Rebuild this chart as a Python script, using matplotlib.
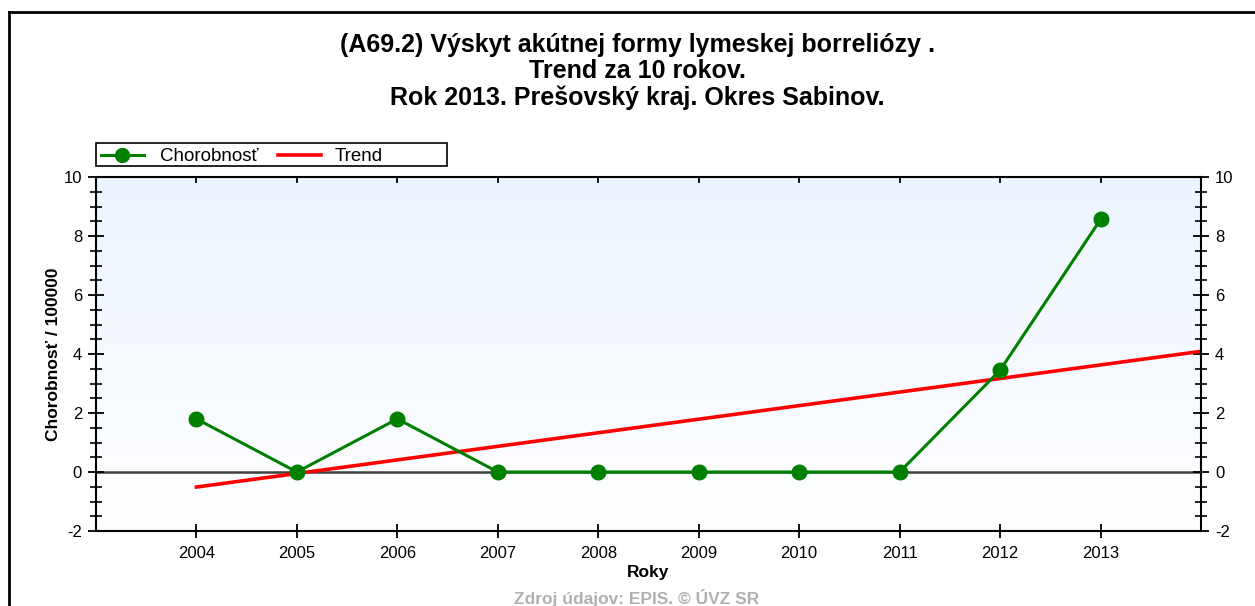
import numpy as np
import matplotlib
matplotlib.use("Agg")
from matplotlib import pyplot as plt
from matplotlib.lines import Line2D
from matplotlib.patches import Rectangle
from matplotlib.ticker import MultipleLocator

plt.rcParams["font.family"] = ["Liberation Sans", "DejaVu Sans"]
plt.rcParams["axes.unicode_minus"] = False

years = [2004, 2005, 2006, 2007, 2008, 2009, 2010, 2011, 2012, 2013]
incidence = [1.8, 0.0, 1.8, 0.0, 0.0, 0.0, 0.0, 0.0, 3.45, 8.56]
trend_years = [2004, 2014]
trend_values = [-0.51, 4.09]

title_lines = [
    "(A69.2) Výskyt akútnej formy lymeskej borreliózy .",
    "Trend za 10 rokov.",
    "Rok 2013. Prešovský kraj. Okres Sabinov.",
]


def main():
    W, H = 1255, 606
    fig = plt.figure(figsize=(W / 100, H / 100), dpi=100)

    def fx(px):
        return px / W

    def fy(py):
        return 1 - py / H

    # outer frame (top and left edges visible)
    fig.add_artist(Line2D([fx(9), fx(9)], [0, fy(12)], transform=fig.transFigure,
                          color="black", linewidth=2))
    fig.add_artist(Line2D([fx(9), 1], [fy(12), fy(12)], transform=fig.transFigure,
                          color="black", linewidth=2))

    ax = fig.add_axes([fx(96), fy(531), fx(1105), 354 / H])

    grad = np.linspace(0, 1, 256).reshape(-1, 1)
    top = np.array([0.925, 0.962, 1.0])
    bottom = np.array([1.0, 1.0, 1.0])
    img = top[None, None, :] * (1 - grad[:, :, None]) + bottom[None, None, :] * grad[:, :, None]
    ax.imshow(img, extent=[0, 1, 0, 1], transform=ax.transAxes, aspect="auto", zorder=0)

    ax.set_xlim(2003, 2014)
    ax.set_ylim(-2, 10)

    ax.axhline(0, color="#404040", linewidth=1.8, zorder=1)
    ax.plot(trend_years, trend_values, color="#ff0000", linewidth=2.6, zorder=2)
    ax.plot(years, incidence, color="#008000", linewidth=2.2, marker="o", markersize=10.5,
            zorder=3)

    ax.set_xticks(years)
    ax.set_xticklabels([str(y) for y in years])
    ax.yaxis.set_major_locator(MultipleLocator(2))
    ax.yaxis.set_minor_locator(MultipleLocator(0.5))
    ax.tick_params(axis="y", which="major", direction="inout", length=12, width=1.3,
                   labelsize=12, left=True, right=True, labelleft=True, labelright=True, pad=4)
    ax.tick_params(axis="y", which="minor", direction="inout", length=8, width=1.2,
                   left=True, right=True)
    ax.tick_params(axis="x", which="major", direction="inout", length=10, width=1.3,
                   labelsize=12, top=False, bottom=True, pad=6)
    for y in years:
        ax.plot([y, y], [1, 0.985], transform=ax.get_xaxis_transform(), color="black",
                linewidth=1.3, clip_on=False, zorder=4)
    for s in ax.spines.values():
        s.set_linewidth(1.5)

    ax.set_ylabel("Chorobnosť / 100000", fontsize=12.5, fontweight="bold", labelpad=2)
    ax.set_xlabel("Roky", fontsize=12.5, fontweight="bold", labelpad=3)

    for i, line in enumerate(title_lines):
        fig.text(fx(637), fy(45 + 26.5 * i), line, ha="center", va="center",
                 fontsize=18, fontweight="bold")
    fig.text(fx(637), fy(598), "Zdroj údajov: EPIS. © ÚVZ SR", ha="center", va="center",
             fontsize=12.5, fontweight="bold", color="#b0b0b0")

    # legend box drawn by hand to match the original placement
    fig.add_artist(Rectangle((fx(96), fy(166)), fx(351), 23 / H, transform=fig.transFigure,
                             facecolor="white", edgecolor="black", linewidth=1.2))
    ly = fy(155)
    fig.add_artist(Line2D([fx(101), fx(144)], [ly, ly], transform=fig.transFigure,
                          color="#008000", linewidth=2.2))
    fig.add_artist(Line2D([fx(122)], [ly], transform=fig.transFigure, color="#008000",
                          marker="o", markersize=10))
    fig.text(fx(160), fy(156.5), "Chorobnosť", ha="left", va="center", fontsize=13.5)
    fig.add_artist(Line2D([fx(278), fx(321)], [ly, ly], transform=fig.transFigure,
                          color="#ff0000", linewidth=2.6))
    fig.text(fx(335), fy(156.5), "Trend", ha="left", va="center", fontsize=13.5)

    fig.savefig("out.png", dpi=100)


if __name__ == "__main__":
    main()
